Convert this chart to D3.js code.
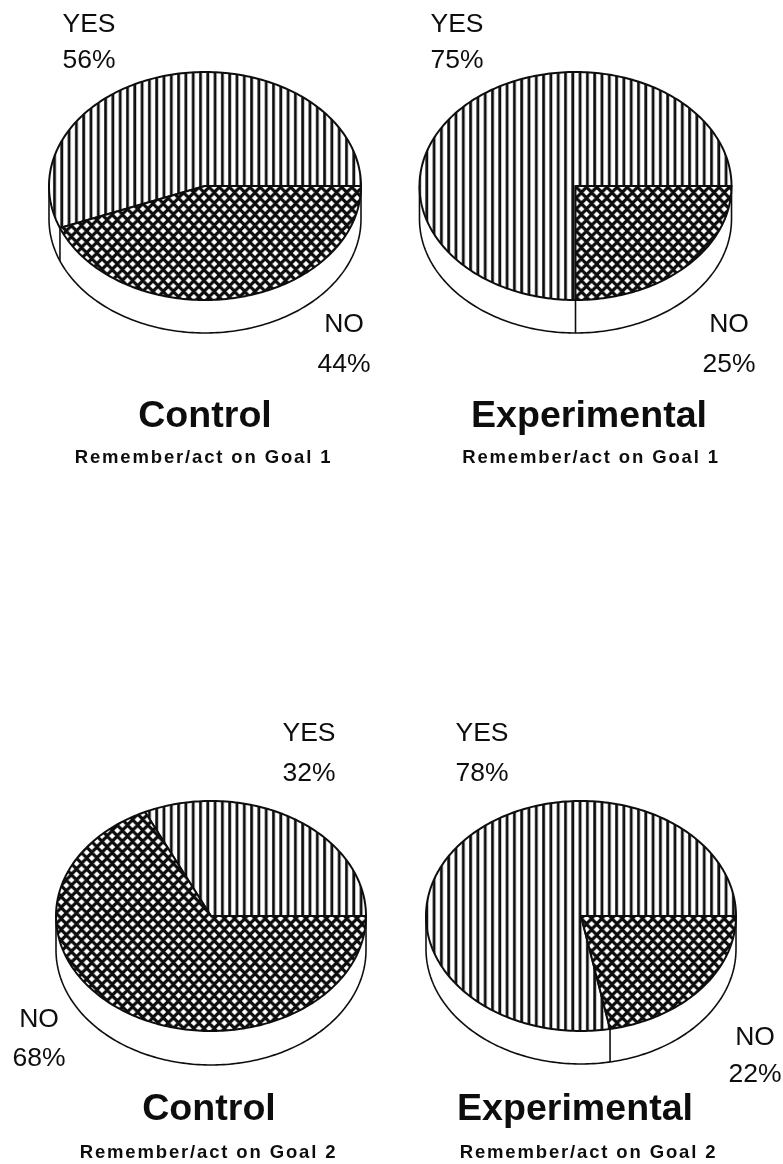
<!DOCTYPE html>
<html>
<head>
<meta charset="utf-8">
<script src="https://cdn.jsdelivr.net/npm/d3@7"></script>
<style>
  html, body { margin: 0; padding: 0; background: #fff; }
  text { font-family: "Liberation Sans", Arial, sans-serif; fill: #111; }
  .lbl { font-size: 26.5px; }
  .ttl { font-size: 37.6px; font-weight: bold; }
  .sub { font-size: 18.5px; font-weight: bold; letter-spacing: 1.85px; }
</style>
</head>
<body>
<div id="chart"></div>
<script>
// percentages
var groups = ["Control", "Experimental", "Control", "Experimental"];
var goals = ["Remember/act on Goal 1", "Remember/act on Goal 1", "Remember/act on Goal 2", "Remember/act on Goal 2"];
var noValues = [44, 25, 68, 22];
var yesValues = [56, 75, 32, 78];

// where each pie and its texts sit on the page
var layout = [
    {cx: 205, cy: 186, rx: 156, ry: 114, depth: 33, yes: [89, 32, 68], no: [344, 332, 372], ttl: [205, 427], sub: [203.5, 463]},
    {cx: 575.5, cy: 186, rx: 156, ry: 114, depth: 33, yes: [457, 32, 68], no: [729, 332, 372], ttl: [589, 427], sub: [591, 463]},
    {cx: 211, cy: 916, rx: 155, ry: 115, depth: 34, yes: [309, 741, 781], no: [39, 1027, 1066], ttl: [209, 1120], sub: [208.5, 1158]},
    {cx: 581, cy: 916, rx: 155, ry: 115, depth: 33, yes: [482, 741, 781], no: [755, 1045, 1082], ttl: [575, 1120], sub: [588.5, 1158]}
];

var width = 783, height = 1164;

var svg = d3.select("#chart").append("svg")
    .attr("width", width)
    .attr("height", height)
    .style("display", "block");

var defs = svg.append("defs");

var stripes = defs.append("pattern")
    .attr("id", "stripes")
    .attr("patternUnits", "userSpaceOnUse")
    .attr("width", 7.3)
    .attr("height", 10);
stripes.append("rect").attr("width", 7.3).attr("height", 10).attr("fill", "#fff");
stripes.append("rect").attr("x", 2).attr("width", 2.8).attr("height", 10).attr("fill", "#111");

var hatch = defs.append("pattern")
    .attr("id", "hatch")
    .attr("patternUnits", "userSpaceOnUse")
    .attr("width", 10.2)
    .attr("height", 11);
hatch.append("rect").attr("width", 10.2).attr("height", 11).attr("fill", "#111");
// white diamonds between the crossing lines
[[0, 0], [10.2, 0], [0, 11], [10.2, 11], [5.1, 5.5]].forEach(function(c) {
    hatch.append("path")
        .attr("d", "M" + (c[0] - 3) + "," + c[1] + "L" + c[0] + "," + (c[1] - 3) +
            "L" + (c[0] + 3) + "," + c[1] + "L" + c[0] + "," + (c[1] + 3) + "Z")
        .attr("fill", "#fff");
});

// the scan is a little soft
var soft = defs.append("filter").attr("id", "soft");
soft.append("feGaussianBlur").attr("stdDeviation", 0.45);

var root = svg.append("g").attr("filter", "url(#soft)");

var pie = d3.pie().sort(null)
    .value(function(d) { return d.v; })
    .startAngle(Math.PI / 2)
    .endAngle(Math.PI / 2 + 2 * Math.PI);

layout.forEach(function(p, i) {
    var x = d3.scaleLinear().domain([-1, 1]).range([p.cx - p.rx, p.cx + p.rx]);
    var y = d3.scaleLinear().domain([-1, 1]).range([p.cy - p.ry, p.cy + p.ry]);
    var g = root.append("g");

    // d3 angles start at 12 o'clock, going clockwise
    function ax(a) { return x(Math.sin(a)); }
    function ay(a) { return y(-Math.cos(a)); }

    var line = d3.line().x(function(a) { return ax(a); }).y(function(a) { return ay(a); });

    function sweep(a0, a1) {
        var n = Math.ceil(Math.abs(a1 - a0) / 0.02);
        return d3.range(n + 1).map(function(k) { return a0 + (a1 - a0) * k / n; });
    }

    // rim below the top face
    var front = sweep(Math.PI / 2, 3 * Math.PI / 2);
    var rim = d3.line()
        .x(function(a) { return ax(a); })
        .y(function(a) { return ay(a) + p.depth; })(front);
    g.append("path")
        .attr("d", "M" + ax(Math.PI / 2) + "," + ay(Math.PI / 2) + "L" + rim.slice(1) +
            "L" + ax(3 * Math.PI / 2) + "," + ay(3 * Math.PI / 2) + "Z")
        .attr("fill", "#fff")
        .attr("stroke", "#111")
        .attr("stroke-width", 1.6);

    var slices = pie([{k: "no", v: noValues[i]}, {k: "yes", v: yesValues[i]}]);

    // edge of the cut on the rim, only where it faces us
    var cut = slices[0].endAngle;
    if (Math.cos(cut) < 0) {
        g.append("line")
            .attr("x1", ax(cut)).attr("y1", ay(cut))
            .attr("x2", ax(cut)).attr("y2", ay(cut) + p.depth)
            .attr("stroke", "#111")
            .attr("stroke-width", 1.6);
    }

    slices.slice().reverse().forEach(function(s) {
        var pts = sweep(s.startAngle, s.endAngle);
        g.append("path")
            .attr("d", line(pts) + "L" + p.cx + "," + p.cy + "Z")
            .attr("fill", s.data.k === "no" ? "url(#hatch)" : "url(#stripes)")
            .attr("stroke", "#111")
            .attr("stroke-width", 2)
            .attr("stroke-linejoin", "round");
    });

    g.append("text").attr("class", "lbl").attr("text-anchor", "middle")
        .attr("x", p.yes[0]).attr("y", p.yes[1]).text("YES");
    g.append("text").attr("class", "lbl").attr("text-anchor", "middle")
        .attr("x", p.yes[0]).attr("y", p.yes[2]).text(yesValues[i] + "%");
    g.append("text").attr("class", "lbl").attr("text-anchor", "middle")
        .attr("x", p.no[0]).attr("y", p.no[1]).text("NO");
    g.append("text").attr("class", "lbl").attr("text-anchor", "middle")
        .attr("x", p.no[0]).attr("y", p.no[2]).text(noValues[i] + "%");
    g.append("text").attr("class", "ttl").attr("text-anchor", "middle")
        .attr("x", p.ttl[0]).attr("y", p.ttl[1]).text(groups[i]);
    g.append("text").attr("class", "sub").attr("text-anchor", "middle")
        .attr("x", p.sub[0]).attr("y", p.sub[1]).text(goals[i]);
});
</script>
</body>
</html>
